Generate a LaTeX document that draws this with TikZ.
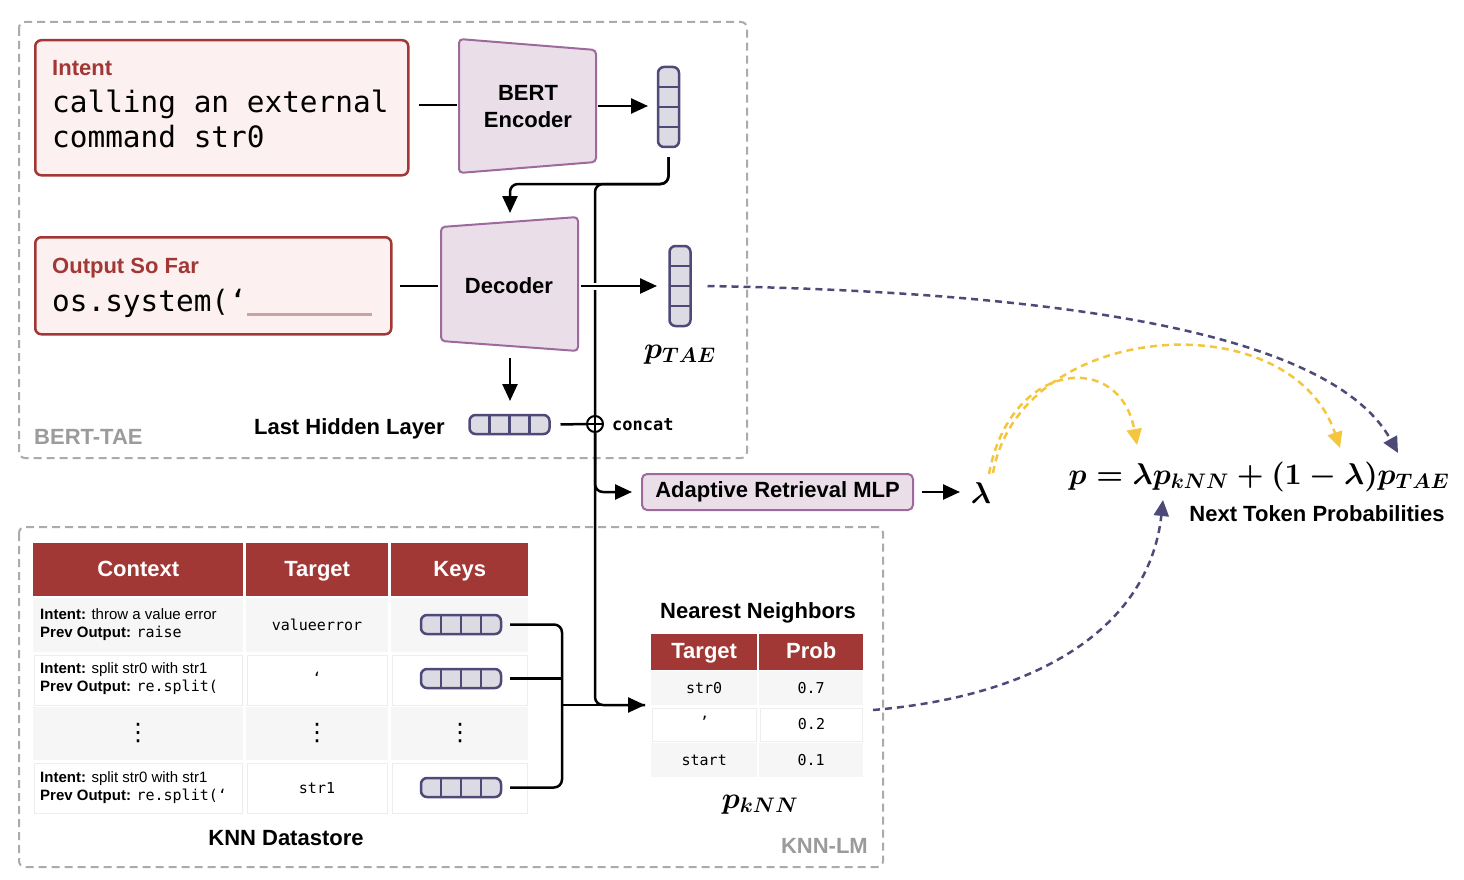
\documentclass[tikz,border=0pt]{standalone}
\usepackage[no-math]{fontspec}
\setmainfont{Liberation Sans}
\setmonofont{DejaVu Sans Mono}
\newfontfamily\symfont{DejaVu Sans}
\usetikzlibrary{arrows.meta}
% scalable Computer Modern math shapes for large formulas
\DeclareFontShape{OML}{cmm}{m}{it}{<->cmmi10}{}
\DeclareFontShape{OMS}{cmsy}{m}{n}{<->cmsy10}{}
\DeclareFontShape{OT1}{cmr}{m}{n}{<->cmr10}{}
\DeclareFontShape{OML}{cmm}{b}{it}{<->cmmib10}{}
\DeclareFontShape{OMS}{cmsy}{b}{n}{<->cmbsy10}{}
\DeclareFontShape{OT1}{cmr}{bx}{n}{<->cmbx10}{}

\definecolor{krust}{HTML}{A23835}
\definecolor{kpink}{HTML}{FCF0F0}
\definecolor{kplum}{HTML}{9E6A9E}
\definecolor{klilac}{HTML}{EADFE9}
\definecolor{kink}{HTML}{4E4A78}
\definecolor{kvec}{HTML}{DCDBE3}
\definecolor{kgrid}{HTML}{ABABAB}
\definecolor{klabel}{HTML}{9B9B9B}
\definecolor{kgold}{HTML}{F4C53F}
\definecolor{krow}{HTML}{F6F6F6}
\definecolor{kedge}{HTML}{EDEDED}
\definecolor{kblank}{HTML}{C9A3A3}

\tikzset{
  frame/.style={kgrid, line width=2pt, dash pattern=on 8pt off 5pt, rounded corners=6},
  wire/.style={line width=2.5pt, black, rounded corners=8},
  arr/.style={wire, -{Triangle[length=17pt,width=15pt]}},
  inkdash/.style={kink, line width=2.5pt, dash pattern=on 7pt off 5pt, -{Triangle[length=16pt,width=15pt]}},
  golddash/.style={kgold, line width=2.5pt, dash pattern=on 7pt off 5pt, -{Triangle[length=16pt,width=15pt]}},
  redbox/.style={draw=krust, fill=kpink, line width=2.5pt, rounded corners=6, anchor=north west, inner sep=0pt},
  plumshape/.style={draw=kplum, fill=klilac, line width=2pt, rounded corners=4},
  vecbox/.style={draw=kink, fill=kvec, line width=2.5pt, rounded corners=6},
  vecbar/.style={draw=kink, line width=2.5pt},
  lbl/.style={font=\fontsize{22}{27}\selectfont\bfseries, inner sep=0pt},
  redlbl/.style={lbl, text=krust},
  greylbl/.style={lbl, text=klabel},
  code/.style={font=\fontsize{29.4}{35}\selectfont\ttfamily, inner sep=0pt},
  mathlbl/.style={font=\fontsize{30}{36}\selectfont\boldmath, inner sep=0pt},
  hcell/.style={fill=krust, text=white, font=\fontsize{22}{26}\selectfont\bfseries,
    anchor=north west, inner sep=0pt, text height=16pt, text depth=3pt},
  gcell/.style={fill=krow, anchor=north west, inner sep=0pt},
  wcell/.style={fill=white, draw=kedge, line width=1pt, anchor=north west, inner sep=0pt},
  small/.style={font=\fontsize{15}{17.5}\selectfont, inner sep=0pt},
  smallcode/.style={font=\fontsize{15}{17.5}\selectfont\ttfamily, inner sep=0pt},
  vdot/.style={font=\fontsize{24}{26}\selectfont\symfont, inner sep=0pt},
  hvec/.pic={
    \draw[vecbox] (-40,-9.5) rectangle (40,9.5);
    \foreach \u in {-20,0,20} \draw[vecbar] (\u,-9.5) -- (\u,9.5);
    \coordinate (-e) at (40,0);
    \coordinate (-w) at (-40,0);
  },
  vvec/.pic={
    \draw[vecbox] (-10.5,-40) rectangle (10.5,40);
    \foreach \u in {-20,0,20} \draw[vecbar] (-10.5,\u) -- (10.5,\u);
    \coordinate (-top) at (0,-40);
    \coordinate (-bot) at (0,40);
    \coordinate (-e) at (10.5,0);
    \coordinate (-w) at (-10.5,0);
  },
}

\begin{document}
\begin{tikzpicture}[x=1pt,y=-1pt]
\useasboundingbox (0,0) rectangle (1464,880);

% ---------- group frames ----------
\draw[frame] (19,22) rectangle (747,458);
\draw[frame] (19,527) rectangle (883,867);
\node[greylbl, anchor=base west] (tae) at (34,444) {BERT-TAE};
\node[greylbl, anchor=base east] (knnlm) at (868,853) {KNN-LM};

% ---------- inputs ----------
\node[redbox, minimum width=373pt, minimum height=135pt] (intent) at (34,39) {};
\node[redlbl, anchor=base west] (intentlbl) at (52,76) {Intent};
\node[code, anchor=base west] (intent1) at (52,113) {calling an external};
\node[code, anchor=base west] (intent2) at (52,148) {command str0};

\node[redbox, minimum width=356pt, minimum height=97pt] (sofar) at (34,236) {};
\node[redlbl, anchor=base west] (sofarlbl) at (52,273) {Output So Far};
\node[code, anchor=base west] (sofartxt) at (52,311) {os.system(‘};
\draw[kblank, line width=3pt] (247,314) -- (372,314);

% ---------- encoder / decoder ----------
\draw[plumshape] (459,39) -- (596,50) -- (596,162) -- (459,173) -- cycle;
\node[lbl, align=center] (enc) at (528,107) {BERT\\Encoder};
\coordinate (encw) at (457,105);
\coordinate (ence) at (598,106);

\draw[plumshape] (441,227) -- (578,217) -- (578,351) -- (441,341) -- cycle;
\node[lbl] (dec) at (509,286) {Decoder};
\coordinate (decw) at (438,286);
\coordinate (dece) at (581,286);
\coordinate (decn) at (510,213);
\coordinate (decs) at (510,358);

% ---------- vectors ----------
\pic (encvec) at (668.5,107) {vvec};
\pic (taevec) at (680,286) {vvec};
\pic (hid) at (509.5,424.5) {hvec};
\node[mathlbl, anchor=base] (ptae) at (680,358) {$p_{TAE}$};
\node[lbl, anchor=base east] (hidlbl) at (445,434) {Last Hidden Layer};

% concat junction
\node[circle, draw, line width=2pt, minimum size=16pt, inner sep=0pt] (cat) at (595,424) {};
\draw[line width=2pt] (cat.north) -- (cat.south) (cat.west) -- (cat.east);
\node[font=\fontsize{17}{20}\selectfont\ttfamily\bfseries, inner sep=0pt, anchor=base west] (catlbl) at (612,430) {concat};

% ---------- connectors in BERT-TAE ----------
\coordinate (encdrop) at (668.5,157);
\coordinate (hidin) at (510,401);
\draw[wire] (419,105) -- (encw);
\draw[arr] (ence) -- (648,106);
\draw[wire] (400,286) -- (decw);
\draw[arr] (encdrop) -- (668.5,184) -- (510,184) -- (decn);
\draw[wire] (encdrop) -- (668.5,184) -- (595,184) -- (cat.north);
\draw[arr] (decs) -- (hidin);
\draw[wire] ([xshift=11pt]hid-e) -- (cat.west);

% decoder output, crossing the vertical line
\draw[white, line width=7pt] (590,286) -- (600,286);
\draw[arr] (dece) -- (657,286);

% ---------- adaptive retrieval ----------
\node[draw=kplum, fill=klilac, line width=2pt, rounded corners=5, minimum width=271pt,
  minimum height=36pt, inner sep=0pt, font=\fontsize{22}{26}\selectfont\bfseries] (mlp) at (777.5,492) {Adaptive Retrieval MLP};
\node[mathlbl, anchor=base] (lam) at (981,503) {$\lambda$};
\draw[wire] (cat.south) -- (595,705) -- (645,705);
\draw[arr] (cat.south) -- (595,492) -- (632,492);
\draw[arr] ([xshift=8pt]mlp.east) -- (960,492);

% ---------- combined distribution ----------
\node[mathlbl, anchor=base] (mix) at (1259,484) {$p = \lambda p_{kNN} + (1-\lambda) p_{TAE}$};
\node[lbl] (nextlbl) at (1317,514) {Next Token Probabilities};
\coordinate (mixknn) at (1137,445);
\coordinate (mixlam) at (1340,448);
\coordinate (mixtae) at (1398,453);
\coordinate (mixbelow) at (1163,500);

% ---------- KNN datastore ----------
\node[hcell, minimum width=210pt, minimum height=53pt] (hctx) at (33,543) {Context};
\node[hcell, minimum width=142pt, minimum height=53pt] (htgt) at (246,543) {Target};
\node[hcell, minimum width=137pt, minimum height=53pt] (hkey) at (391,543) {Keys};

\node[gcell, minimum width=210pt, minimum height=54pt] (c1) at (33,598) {};
\node[gcell, minimum width=142pt, minimum height=54pt] (t1) at (246,598) {};
\node[gcell, minimum width=137pt, minimum height=54pt] (k1) at (391,598) {};
\node[wcell, minimum width=208pt, minimum height=50pt] (c2) at (34,655) {};
\node[wcell, minimum width=140pt, minimum height=50pt] (t2) at (247,655) {};
\node[wcell, minimum width=135pt, minimum height=50pt] (k2) at (392,655) {};
\node[gcell, minimum width=210pt, minimum height=53pt] (c3) at (33,707) {};
\node[gcell, minimum width=142pt, minimum height=53pt] (t3) at (246,707) {};
\node[gcell, minimum width=137pt, minimum height=53pt] (k3) at (391,707) {};
\node[wcell, minimum width=208pt, minimum height=50pt] (c4) at (34,763) {};
\node[wcell, minimum width=140pt, minimum height=50pt] (t4) at (247,763) {};
\node[wcell, minimum width=135pt, minimum height=50pt] (k4) at (392,763) {};

\node[small, align=left, anchor=west] (ctx1) at (40,624.5) {\textbf{Intent:} throw a value error\\\textbf{Prev Output:} \texttt{raise}};
\node[small, align=left, anchor=west] (ctx2) at (40,678.5) {\textbf{Intent:} split str0 with str1\\\textbf{Prev Output:} \texttt{re.split(}};
\node[small, align=left, anchor=west] (ctx4) at (40,787.5) {\textbf{Intent:} split str0 with str1\\\textbf{Prev Output:} \texttt{re.split(‘}};
\node[smallcode] (tg1) at (317,624.5) {valueerror};
\node[smallcode] (tg2) at (317,678) {‘};
\node[smallcode] (tg4) at (317,788) {str1};
\node[vdot] (dd1) at (138,733) {⋮};
\node[vdot] (dd2) at (317,733) {⋮};
\node[vdot] (dd3) at (460,733) {⋮};

\pic (kv1) at (461,624.5) {hvec};
\pic (kv2) at (461,678.5) {hvec};
\pic (kv4) at (461,787.5) {hvec};
\node[lbl] (dslbl) at (286,838) {KNN Datastore};

% keys gathered into the lookup
\draw[wire] ([xshift=9pt]kv1-e) -- (562,624.5) -- (562,787.5) -- ([xshift=9pt]kv4-e);
\draw[wire] ([xshift=9pt]kv2-e) -- (562,678.5);
\coordinate (nnin) at (645,705);
\draw[arr] (562,705) -- (nnin);

% ---------- nearest neighbours ----------
\node[lbl] (nnlbl) at (758,613) {Nearest Neighbors};
\node[hcell, minimum width=106pt, minimum height=36pt] (nht) at (651,634) {Target};
\node[hcell, minimum width=104pt, minimum height=36pt] (nhp) at (759,634) {Prob};
\node[gcell, minimum width=106pt, minimum height=34pt] (nt1) at (651,671) {};
\node[gcell, minimum width=104pt, minimum height=34pt] (np1) at (759,671) {};
\node[wcell, minimum width=104pt, minimum height=33pt] (nt2) at (652,707.5) {};
\node[wcell, minimum width=102pt, minimum height=33pt] (np2) at (760,707.5) {};
\node[gcell, minimum width=106pt, minimum height=34pt] (nt3) at (651,743) {};
\node[gcell, minimum width=104pt, minimum height=34pt] (np3) at (759,743) {};
\node[smallcode] at (nt1) {str0};
\node[smallcode] at (np1) {0.7};
\node[smallcode] at ([yshift=3pt]nt2.center) {’};
\node[smallcode] at (np2) {0.2};
\node[smallcode] at (nt3) {start};
\node[smallcode] at (np3) {0.1};
\node[mathlbl, anchor=base] (pknn) at (760,808) {$p_{kNN}$};

% ---------- interpolation arrows ----------
\coordinate (nnout) at (873,710);
\draw[inkdash] ([xshift=17pt]taevec-e) .. controls (1050,292) and (1330,330) .. (mixtae);
\draw[golddash] ([xshift=8pt,yshift=8pt]lam.north) .. controls (1010,360) and (1120,350) .. (mixknn);
\draw[golddash] ([xshift=12pt,yshift=9pt]lam.north) .. controls (1020,320) and (1290,300) .. (mixlam);
\draw[inkdash] (nnout) .. controls (1050,695) and (1150,620) .. (mixbelow);

\end{tikzpicture}
\end{document}
